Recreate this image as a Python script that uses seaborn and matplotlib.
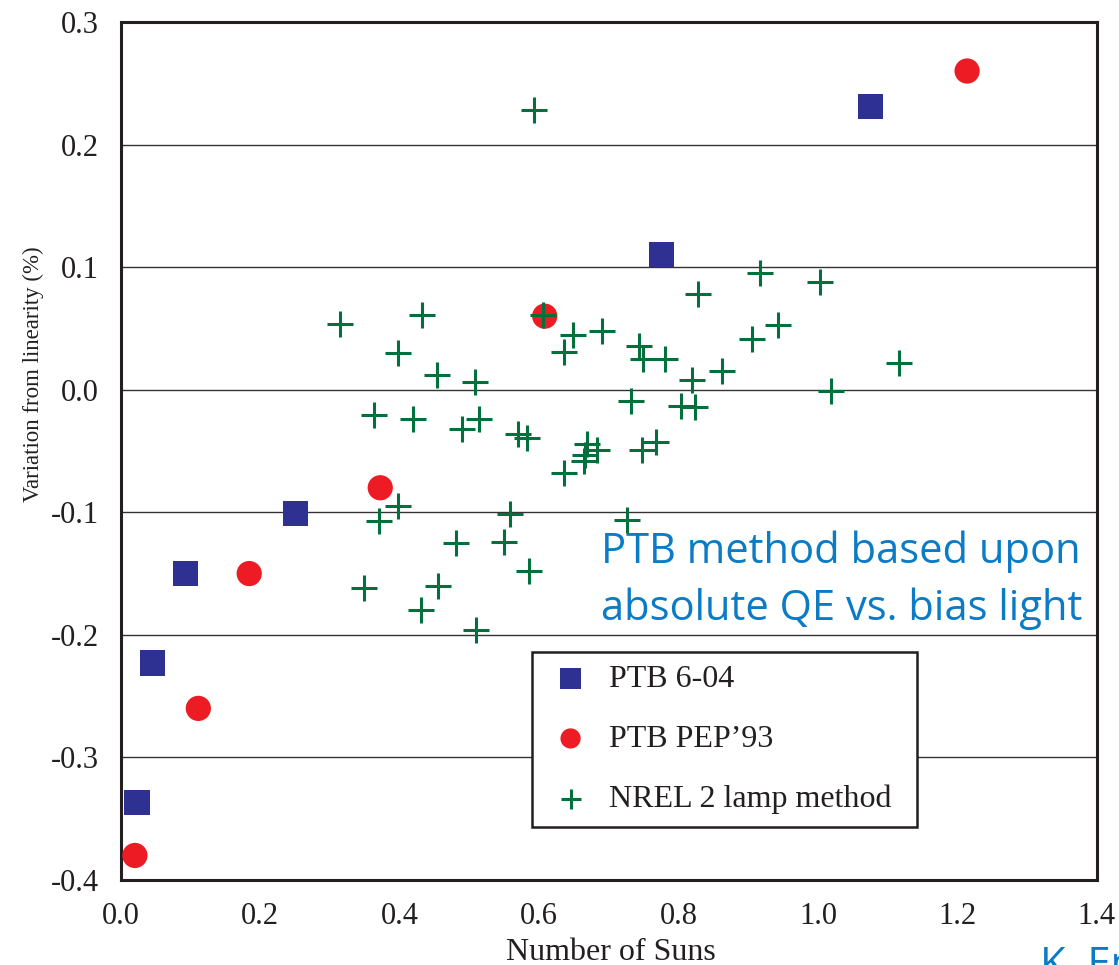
import matplotlib
matplotlib.use("Agg")
import matplotlib.pyplot as plt
import seaborn as sns
import pandas as pd
from matplotlib.ticker import FixedLocator, FixedFormatter, MultipleLocator

# ---- data ----
ptb604_x = [0.023, 0.045, 0.093, 0.250, 0.775, 1.075]
ptb604_y = [-0.337, -0.223, -0.150, -0.101, 0.110, 0.231]

pep93_x = [0.020, 0.111, 0.184, 0.372, 0.608, 1.214]
pep93_y = [-0.380, -0.260, -0.150, -0.080, 0.060, 0.260]

nrel_x = [0.314, 0.432, 0.398, 0.454, 0.508, 0.606, 0.649, 0.690, 0.635, 0.743,
          0.749, 0.780, 0.828, 0.820, 0.732, 0.803, 0.823, 0.363, 0.419, 0.489,
          0.514, 0.570, 0.583, 0.669, 0.683, 0.666, 0.664, 0.747, 0.767, 0.635,
          0.398, 0.370, 0.558, 0.726, 0.480, 0.549, 0.585, 0.348, 0.455, 0.430,
          0.510, 0.593, 0.917, 1.003, 0.942, 0.906, 1.116, 0.863, 1.019]
nrel_y = [0.054, 0.061, 0.030, 0.012, 0.006, 0.061, 0.045, 0.048, 0.031, 0.036,
          0.025, 0.025, 0.078, 0.008, -0.009, -0.013, -0.014, -0.021, -0.024, -0.032,
          -0.024, -0.036, -0.039, -0.044, -0.049, -0.053, -0.058, -0.049, -0.043, -0.068,
          -0.095, -0.107, -0.101, -0.106, -0.125, -0.124, -0.148, -0.162, -0.160, -0.180,
          -0.196, 0.228, 0.095, 0.088, 0.053, 0.041, 0.022, 0.015, -0.001]

series_labels = ["PTB 6-04", "PTB PEP\u201993", "NREL 2 lamp method"]

x_ticks = [0.0, 0.2, 0.4, 0.6, 0.8, 1.0, 1.2, 1.4]
x_tick_labels = ["0.0", "0.2", "0.4", "0.6", "0.8", "1.0", "1.2", "1.4"]
y_ticks = [-0.4, -0.3, -0.2, -0.1, 0.0, 0.1, 0.2, 0.3]
y_tick_labels = ["-0.4", "-0.3", "-0.2", "-0.1", "0.0", "0.1", "0.2", "0.3"]

x_label = "Number of Suns"
y_label = "Variation from linearity (%)"
note_lines = ["PTB method based upon", "absolute QE vs. bias light"]
credit = "K. Emery"

# ---- style ----
sns.set_style("white")
plt.rcParams["font.family"] = ["Liberation Serif", "DejaVu Serif"]

fig = plt.figure(figsize=(11.19, 9.65), dpi=100)
ax = fig.add_axes([0.1081, 0.0881, 0.8720, 0.8891])

df_sq = pd.DataFrame({"x": ptb604_x, "y": ptb604_y})
df_ci = pd.DataFrame({"x": pep93_x, "y": pep93_y})
df_pl = pd.DataFrame({"x": nrel_x, "y": nrel_y})

sns.scatterplot(data=df_sq, x="x", y="y", ax=ax, marker="s", s=330,
                color="#2E3192", edgecolor="none", label=series_labels[0], zorder=3)
sns.scatterplot(data=df_ci, x="x", y="y", ax=ax, marker="o", s=330,
                color="#ED1C24", edgecolor="none", label=series_labels[1], zorder=3)
sns.scatterplot(data=df_pl, x="x", y="y", ax=ax, marker="+", s=330,
                color="#00703C", linewidth=2.2, label=series_labels[2], zorder=4)

ax.set_xlim(0, 1.4)
ax.set_ylim(-0.4, 0.3)
ax.xaxis.set_major_locator(FixedLocator(x_ticks))
ax.xaxis.set_major_formatter(FixedFormatter(x_tick_labels))
ax.yaxis.set_major_locator(FixedLocator(y_ticks))
ax.yaxis.set_major_formatter(FixedFormatter(y_tick_labels))
ax.xaxis.set_minor_locator(MultipleLocator(0.05))
ax.yaxis.set_minor_locator(MultipleLocator(0.02))

ax.tick_params(axis="both", which="both", direction="in", top=False, right=False,
               colors="#231F20", width=1.6, labelsize=22, pad=16)
ax.tick_params(axis="both", which="major", length=12)
ax.tick_params(axis="both", which="minor", length=6.5)

for sp in ax.spines.values():
    sp.set_linewidth(2.2)
    sp.set_color("#231F20")
    sp.set_visible(True)

ax.yaxis.grid(True, which="major", color="#333333", linewidth=1.0, zorder=0)
ax.xaxis.grid(False)
ax.set_axisbelow(True)

ax.set_xlabel(x_label, fontsize=23, color="#231F20")
ax.set_ylabel(y_label, fontsize=16.5, color="#231F20")
ax.xaxis.set_label_coords(0.502, -0.0675)
ax.yaxis.set_label_coords(-0.079, 0.589)

leg = ax.legend(loc="lower left", bbox_to_anchor=(0.421, 0.062, 0.3946, 0.206),
                mode="expand", borderaxespad=0,
                fontsize=23, frameon=True, fancybox=False, framealpha=1,
                edgecolor="#231F20", markerscale=0.8, handletextpad=0.375,
                labelspacing=0.96, borderpad=0.4, handlelength=1.63)
leg.get_frame().set_linewidth(1.8)
for t in leg.get_texts():
    t.set_color("#231F20")

note_color = "#0A7BC4"
note_font = ["Open Sans", "DejaVu Sans"]
ax.text(0.492, 0.3695, note_lines[0], transform=ax.transAxes, fontsize=30,
        family=note_font, color=note_color, ha="left", va="baseline")
ax.text(0.492, 0.303, note_lines[1], transform=ax.transAxes, fontsize=30,
        family=note_font, color=note_color, ha="left", va="baseline")

fig.text(0.929, 0.0207, credit, fontsize=30, family=note_font,
         color=note_color, ha="left", va="top")

fig.savefig("out.png", dpi=100, facecolor="white")
